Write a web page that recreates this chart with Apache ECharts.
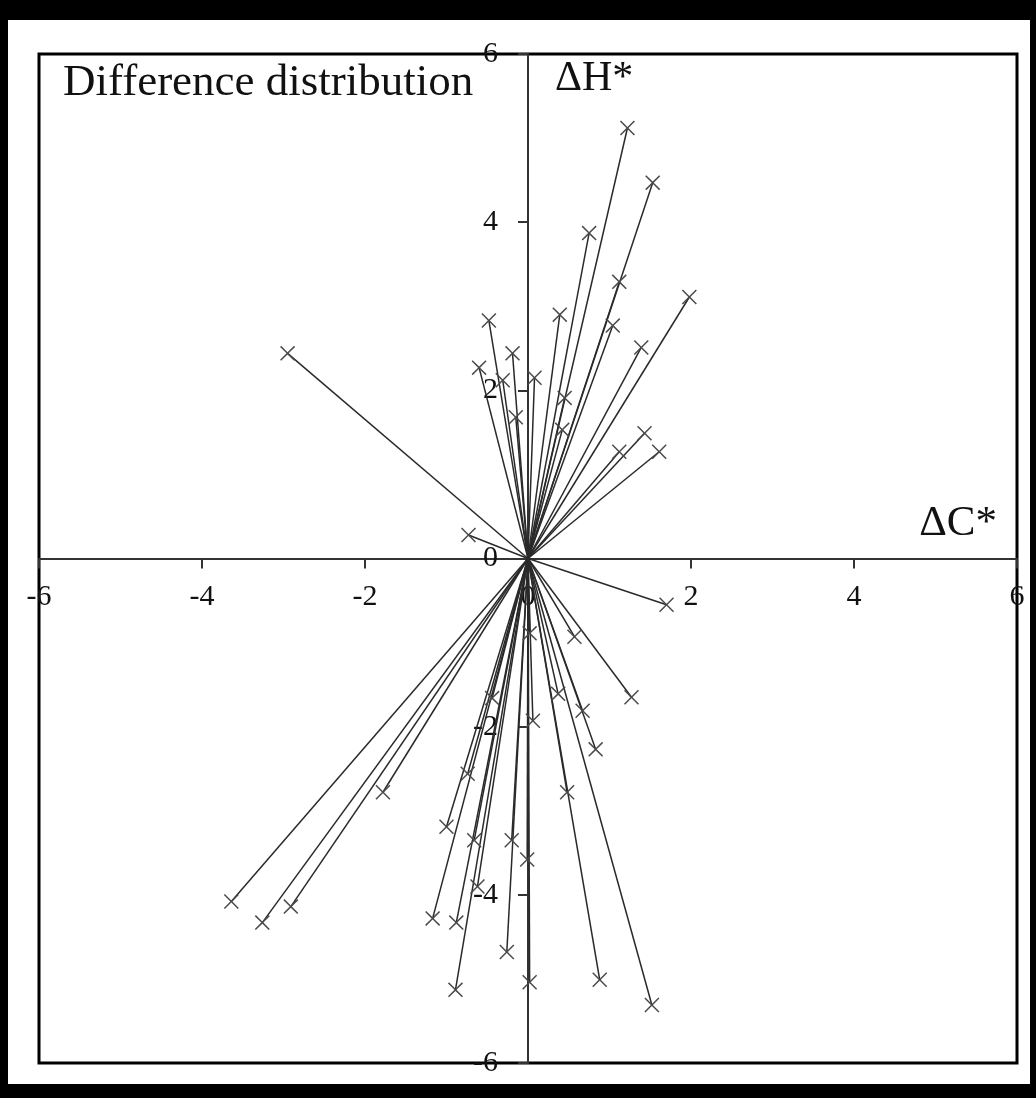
<!DOCTYPE html>
<html>
<head>
<meta charset="utf-8">
<script src="https://cdn.jsdelivr.net/npm/echarts@6/dist/echarts.min.js"></script>
<style>
html,body{margin:0;padding:0;background:#000;}
#chart{position:absolute;left:8px;top:20px;width:1022px;height:1064px;background:#fff;}
</style>
</head>
<body>
<div id="chart"></div>
<script>
// difference vectors, each drawn from the origin to (dC, dH)
const dC = [1.22, 1.53, 0.75, 1.12, 1.98, 0.39, 1.04, -0.48, -0.19, 1.39,
    -2.95, -0.60, -0.31, 0.08, 0.45, -0.15, 0.42, 1.43, 1.12, 1.61,
    -0.73, 1.70, 0.02, 0.57, 1.27, 0.37, 0.67, 0.83, 0.06, -0.44,
    -0.74, 0.48, -1.78, -1.00, -0.66, -0.20, -0.01, -0.62, -1.17, -0.88,
    -0.26, -0.89, 0.02, 0.88, 1.52, -3.64, -3.26, -2.91];
const dH = [5.12, 4.47, 3.87, 3.29, 3.11, 2.90, 2.77, 2.83, 2.44, 2.51,
    2.44, 2.27, 2.12, 2.15, 1.91, 1.68, 1.53, 1.49, 1.27, 1.27,
    0.28, -0.55, -0.89, -0.93, -1.65, -1.61, -1.81, -2.27, -1.93, -1.66,
    -2.56, -2.78, -2.78, -3.19, -3.35, -3.35, -3.58, -3.90, -4.28, -4.33,
    -4.68, -5.13, -5.04, -5.01, -5.31, -4.08, -4.33, -4.14];
const axisMin = -6;
const axisMax = 6;
const axisStep = 2;

const serif = "'Times New Roman','Liberation Serif',serif";
const crossPath = 'path://M0,0.7L0.7,0L5,4.3L9.3,0L10,0.7L5.7,5L10,9.3L9.3,10L5,5.7L0.7,10L0,9.3L4.3,5Z';

const gridW = 978;
const gridH = 1009;

const chart = echarts.init(document.getElementById('chart'));

const axisCommon = {
    type: 'value',
    min: axisMin,
    max: axisMax,
    interval: axisStep,
    axisLine: {onZero: false, lineStyle: {color: '#333', width: 2}},
    axisTick: {show: true, length: 10, lineStyle: {color: '#333', width: 2}},
    splitLine: {show: false},
};

const option = {
    backgroundColor: '#fff',
    animation: false,
    title: {
        text: 'Difference distribution',
        left: 50,
        top: 36,
        textStyle: {fontFamily: serif, fontSize: 45, fontWeight: 'normal', color: '#111'}
    },
    grid: {
        left: 31,
        top: 34,
        width: gridW,
        height: gridH,
        outerBoundsMode: 'none',
        containLabel: false,
        show: true,
        borderColor: '#000',
        borderWidth: 3,
        backgroundColor: '#fff'
    },
    // axes crossing at the origin: shift each one half the grid inward
    xAxis: Object.assign({}, axisCommon, {
        position: 'bottom',
        offset: -gridH / 2,
        axisLabel: {fontFamily: serif, fontSize: 30, color: '#111', margin: 24}
    }),
    yAxis: Object.assign({}, axisCommon, {
        position: 'left',
        offset: -gridW / 2,
        axisLabel: {fontFamily: serif, fontSize: 30, color: '#111', margin: 30}
    }),
    graphic: [
        {type: 'text', left: 547, top: 38,
            style: {text: 'ΔH*', font: '42px ' + serif, fill: '#111'}},
        {type: 'text', right: 33, top: 482,
            style: {text: 'ΔC*', font: '43px ' + serif, fill: '#111'}}
    ],
    series: [
        {
            type: 'lines',
            coordinateSystem: 'cartesian2d',
            silent: true,
            lineStyle: {color: '#2a2a2a', width: 1.5, opacity: 1},
            data: dC.map((x, i) => ({coords: [[0, 0], [x, dH[i]]]}))
        },
        {
            type: 'scatter',
            symbol: crossPath,
            symbolSize: 15,
            itemStyle: {color: '#4a4a4a', opacity: 1},
            data: dC.map((x, i) => [x, dH[i]])
        }
    ]
};

chart.setOption(option);
</script>
</body>
</html>
